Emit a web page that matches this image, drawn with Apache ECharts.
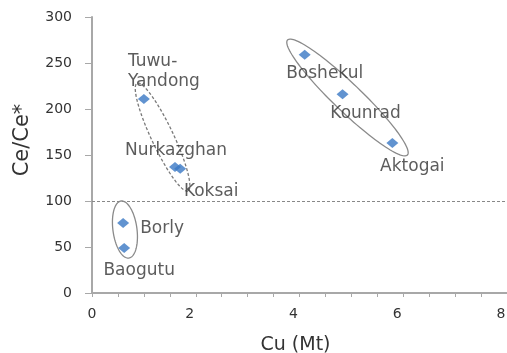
<!DOCTYPE html>
<html><head><meta charset="utf-8">
<script src="https://cdn.jsdelivr.net/npm/echarts@6/dist/echarts.min.js"></script>
<style>html,body{margin:0;padding:0;background:#fff}#c{width:507px;height:353px}</style>
</head><body><div id="c"></div>
<script>
// ---- data ----
const deposits = ['Tuwu-\nYandong', 'Nurkazghan', 'Koksai', 'Boshekul', 'Kounrad', 'Aktogai', 'Borly', 'Baogutu'];
const cuMt = [1.0, 1.6, 1.7, 4.1, 4.83, 5.79, 0.6, 0.62];
const ceAnomaly = [211, 137, 135, 259, 216, 163, 76, 49];
const xTicks = [0, 2, 4, 6, 8];
const yTicks = [0, 50, 100, 150, 200, 250, 300];
const thresholdY = 100;
// ellipse groups: major-axis end points in data coordinates [x1, y1, x2, y2]
const groupEllipses = [
  [3.77, 275, 6.08, 150],
  [0.87, 228, 1.85, 111],
  [0.56, 100, 0.71, 38]
];

// ---- styles ----
const labelStyles = [
  { offset: [-16, -27], align: 'left' },
  { offset: [1, -16], align: 'center' },
  { offset: [31, 23], align: 'center' },
  { offset: [20, 19], align: 'center' },
  { offset: [23, 19], align: 'center' },
  { offset: [20, 24], align: 'center' },
  { offset: [39, 5], align: 'center' },
  { offset: [15, 23], align: 'center' }
];
const ellipseStyles = [
  { b: 14, dash: null, color: '#8a8a8a' },
  { b: 11, dash: [3, 2], color: '#7a7a7a' },
  { b: 12, dash: null, color: '#8a8a8a' }
];
const FONT = 'DejaVu Sans';
const TXT = '#333';
const AX = '#a8a8a8';

const points = deposits.map((n, i) => ({
  name: n,
  value: [cuMt[i], ceAnomaly[i]],
  label: labelStyles[i]
}));

const chart = echarts.init(document.getElementById('c'), null, { renderer: 'canvas' });
chart.setOption({
  animation: false,
  backgroundColor: '#fff',
  grid: { left: 92, right: 0, top: 17, bottom: 60, containLabel: false, outerBoundsMode: 'none' },
  xAxis: [{
    type: 'value', min: xTicks[0], max: xTicks[xTicks.length - 1], interval: 2,
    name: 'Cu (Mt)', nameLocation: 'middle', nameGap: 43,
    nameTextStyle: { fontFamily: FONT, fontSize: 19, color: TXT, padding: [0, 8, 0, 0] },
    axisLine: { show: true, onZero: false, lineStyle: { color: AX, width: 2 } },
    axisTick: { show: true, length: 4, lineStyle: { color: AX } },
    minorTick: { show: true, splitNumber: 4, length: 4, lineStyle: { color: AX } },
    splitLine: { show: false },
    axisLabel: {
      fontFamily: FONT, fontSize: 14, color: TXT, margin: 14, padding: [0, 12, 0, 0], showMaxLabel: true,
      formatter: v => (v === 0 ? '{z|0}' : String(v)),
      rich: { z: { fontFamily: FONT, fontSize: 14, color: TXT, padding: [0, 0, 0, 12] } }
    }
  }, {
    type: 'value', position: 'top', min: 0, max: 8,
    axisLine: { show: true, lineStyle: { color: AX, width: 2 } },
    axisTick: { show: false }, axisLabel: { show: false }, splitLine: { show: false }
  }],
  yAxis: {
    type: 'value', min: yTicks[0], max: yTicks[yTicks.length - 1], interval: 50,
    name: 'Ce/Ce*', nameLocation: 'middle', nameGap: 59, nameRotate: 90,
    nameTextStyle: { fontFamily: FONT, fontSize: 21, color: TXT, padding: [0, 0, 0, 30] },
    axisLine: { show: true, onZero: false, lineStyle: { color: AX, width: 2 } },
    axisTick: { show: true, length: 7, lineStyle: { color: AX } },
    splitLine: { show: false },
    axisLabel: { fontFamily: FONT, fontSize: 14, color: TXT, margin: 20 }
  },
  series: [{
    type: 'custom',
    coordinateSystem: 'cartesian2d',
    silent: true, clip: false, z: 1,
    data: groupEllipses,
    dimensions: ['x1', 'y1', 'x2', 'y2'],
    encode: { x: [0, 2], y: [1, 3] },
    renderItem: function (params, api) {
      const i = params.dataIndex;
      const p1 = api.coord([api.value(0), api.value(1)]);
      const p2 = api.coord([api.value(2), api.value(3)]);
      const cx = (p1[0] + p2[0]) / 2, cy = (p1[1] + p2[1]) / 2;
      const a = Math.hypot(p2[0] - p1[0], p2[1] - p1[1]) / 2;
      const th = Math.atan2(p2[1] - p1[1], p2[0] - p1[0]);
      const st = ellipseStyles[i];
      const pts = [];
      for (let k = 0; k < 120; k++) {
        const t = k / 120 * Math.PI * 2;
        const ex = a * Math.cos(t), ey = st.b * Math.sin(t);
        pts.push([cx + ex * Math.cos(th) - ey * Math.sin(th), cy + ex * Math.sin(th) + ey * Math.cos(th)]);
      }
      return {
        type: 'polygon', shape: { points: pts },
        style: { fill: 'none', stroke: st.color, lineWidth: 1.3, lineDash: st.dash }
      };
    }
  }, {
    type: 'scatter',
    symbol: 'diamond',
    symbolSize: [12, 10],
    z: 3,
    itemStyle: { color: '#3a78c4' },
    data: points,
    label: {
      show: true, position: 'inside', formatter: '{b}',
      fontFamily: FONT, fontSize: 17, color: TXT, lineHeight: 20
    },
    markLine: {
      silent: true, symbol: 'none',
      label: { show: false },
      lineStyle: { color: '#888', type: [3, 2], width: 1 },
      data: [{ yAxis: thresholdY }]
    }
  }]
});
</script></body></html>
